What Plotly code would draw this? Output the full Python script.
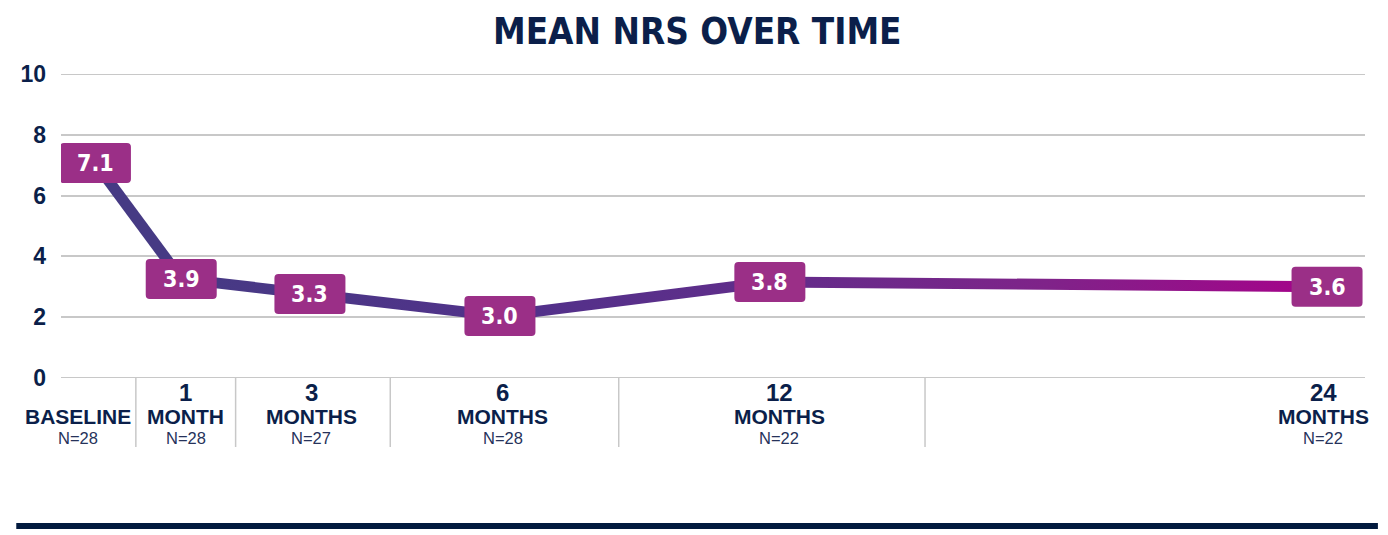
import plotly.graph_objects as go

# ---------------- data ----------------
time_numbers = ["", "1", "3", "6", "12", "24"]
time_units = ["BASELINE", "MONTH", "MONTHS", "MONTHS", "MONTHS", "MONTHS"]
n_patients = [28, 28, 27, 28, 22, 22]
mean_nrs_plotted = [7.07, 3.26, 2.76, 2.04, 3.16, 3.0]
mean_nrs_labels = ["7.1", "3.9", "3.3", "3.0", "3.8", "3.6"]
y_ticks = [0, 2, 4, 6, 8, 10]

# ---------------- layout constants (0-100 horizontal scale) ----------------
X_POS = [2.64, 9.22, 19.09, 33.66, 54.36, 97.09]
LABEL_POS = [1.30, 9.56, 19.20, 33.89, 55.09, 96.79]
DIVIDERS = [5.74, 13.39, 25.25, 42.77, 66.26]

NAVY = "#0b1f4a"
BOX = "#9b2f87"
GRID = "#c8c8c8"
TITLE_FONT = "Noto Sans ExtraCondensed, Noto Sans Condensed, DejaVu Sans Condensed, sans-serif"
BOX_FONT = "Noto Sans Condensed, DejaVu Sans Condensed, sans-serif"
SANS = "Liberation Sans, Arial, sans-serif"

fig = go.Figure()

# steep first segment as a plain line
fig.add_trace(go.Scatter(
    x=X_POS[:2], y=mean_nrs_plotted[:2], mode="lines",
    line=dict(color="#463a84", width=11), hoverinfo="skip", showlegend=False,
))

# remaining segments as a band with a horizontal colour gradient
half = 0.18
xs = X_POS[1:]
ys = mean_nrs_plotted[1:]
band_x = list(xs) + list(reversed(xs)) + [xs[0]]
band_y = [v + half for v in ys] + [v - half for v in reversed(ys)] + [ys[0] + half]
fig.add_trace(go.Scatter(
    x=band_x, y=band_y, mode="lines", line=dict(width=0, color="rgba(0,0,0,0)"),
    fill="toself",
    fillgradient=dict(
        type="horizontal",
        start=xs[0], stop=xs[-1],
        colorscale=[[0, "#463a84"], [0.3, "#52318a"], [0.5, "#602d8a"],
                    [0.75, "#7f2389"], [1, "#a8008a"]],
    ),
    hoverinfo="skip", showlegend=False,
))

shapes = []
annotations = []

# edge grid lines (0 and 10)
for gy in (y_ticks[0], y_ticks[-1]):
    shapes.append(dict(type="line", xref="paper", yref="y", x0=0, x1=1,
                       y0=gy, y1=gy, line=dict(color=GRID, width=2), layer="below"))

# rounded label boxes anchored on the points
w, h, r = 35.5, 20, 4
box_path = (f"M {-w+r},{-h} L {w-r},{-h} Q {w},{-h} {w},{-h+r} L {w},{h-r} "
            f"Q {w},{h} {w-r},{h} L {-w+r},{h} Q {-w},{h} {-w},{h-r} "
            f"L {-w},{-h+r} Q {-w},{-h} {-w+r},{-h} Z")
for xv, yv, lab in zip(X_POS, mean_nrs_plotted, mean_nrs_labels):
    shapes.append(dict(
        type="path", xref="x", yref="y", xsizemode="pixel", ysizemode="pixel",
        xanchor=xv, yanchor=yv, path=box_path,
        fillcolor=BOX, line=dict(width=0), layer="above",
    ))
    annotations.append(dict(
        x=xv, y=yv, xref="x", yref="y", text=lab, showarrow=False,
        font=dict(family=BOX_FONT, size=23, color="white", weight="bold"),
        xanchor="center", yanchor="middle",
    ))

# category dividers below axis
for d in DIVIDERS:
    shapes.append(dict(
        type="line", xref="x", yref="paper", x0=d, x1=d, y0=0, y1=-0.227,
        line=dict(color=GRID, width=1.5), layer="below",
    ))

# category labels
for xp, num, unit, n in zip(LABEL_POS, time_numbers, time_units, n_patients):
    if num:
        annotations.append(dict(
            x=xp, y=-0.049, xref="x", yref="paper", text=num, showarrow=False,
            font=dict(family=SANS, size=24, color=NAVY, weight="bold"),
            xanchor="center", yanchor="middle",
        ))
    annotations.append(dict(
        x=xp, y=-0.128, xref="x", yref="paper", text=unit, showarrow=False,
        font=dict(family=SANS, size=21, color=NAVY, weight="bold"),
        xanchor="center", yanchor="middle",
    ))
    annotations.append(dict(
        x=xp, y=-0.196, xref="x", yref="paper", text=f"N={n}", showarrow=False,
        font=dict(family=SANS, size=16.5, color="#26325a"),
        xanchor="center", yanchor="middle",
    ))

# title
annotations.append(dict(
    x=0.488, y=1.217, xref="paper", yref="paper", text="MEAN NRS OVER TIME",
    showarrow=False,
    font=dict(family=TITLE_FONT, size=36.5, color=NAVY, weight="bold"),
    xanchor="center", yanchor="top",
))

# bottom rule
shapes.append(dict(
    type="rect", xref="paper", yref="paper", x0=-0.0343, x1=1.0099,
    y0=-0.497, y1=-0.477, fillcolor="#021a3e", line=dict(width=0),
))

fig.update_layout(
    width=1380, height=527,
    margin=dict(l=45, r=23, t=66, b=157),
    paper_bgcolor="white", plot_bgcolor="white",
    shapes=shapes, annotations=annotations,
    showlegend=False,
    xaxis=dict(range=[0, 100], showgrid=False, zeroline=False,
               showticklabels=False, showline=False, fixedrange=True),
    yaxis=dict(range=[0, 10], tickvals=y_ticks, showgrid=True,
               gridcolor=GRID, gridwidth=2, zeroline=False,
               showline=False, ticklabelstandoff=14,
               tickfont=dict(family=SANS, size=23, color=NAVY, weight="bold"),
               fixedrange=True),
)

fig.write_html("out.html")
